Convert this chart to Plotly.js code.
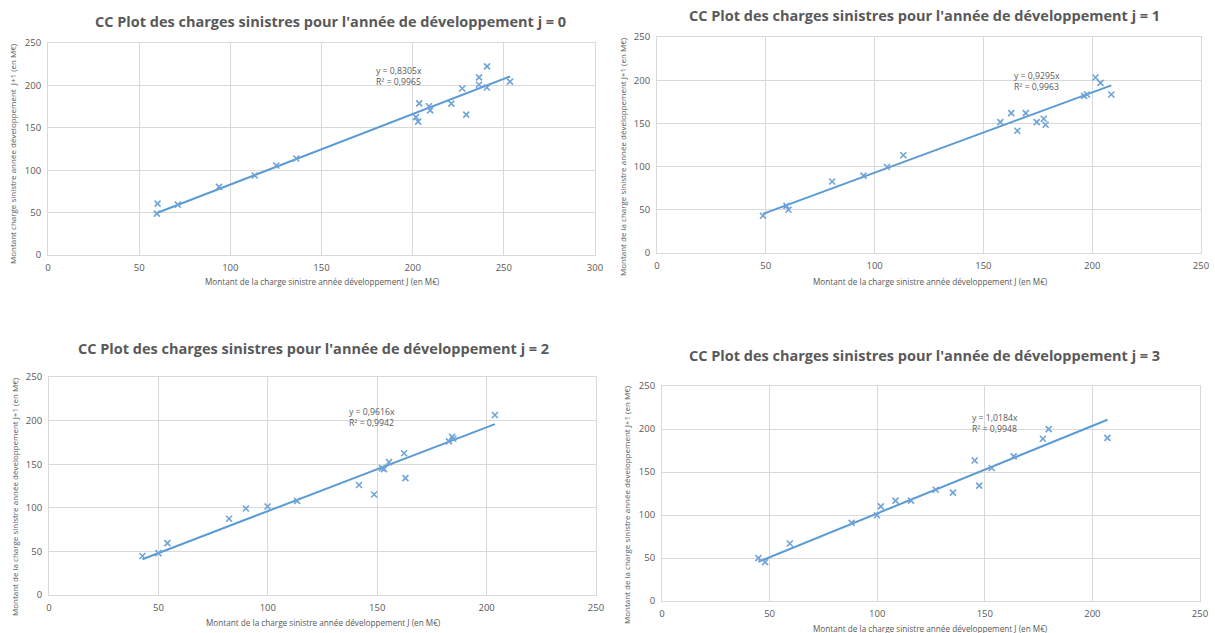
<!DOCTYPE html>
<html>
<head>
<meta charset="utf-8">
<script src="https://cdn.plot.ly/plotly-3.0.1.min.js"></script>
<style>html,body{margin:0;padding:0;background:#fff;}#chart{width:1215px;height:633px;}</style>
</head>
<body>
<div id="chart"></div>
<script>
// ---- data ----
const titles = [
  "CC Plot des charges sinistres pour l'année de développement j = 0",
  "CC Plot des charges sinistres pour l'année de développement j = 1",
  "CC Plot des charges sinistres pour l'année de développement j = 2",
  "CC Plot des charges sinistres pour l'année de développement j = 3"
];
const xTitle = "Montant de la charge sinistre année développement J (en M€)";
const yTitles = [
  "Montant charge sinistre année développement  J+1 (en M€)",
  "Montant de la charge sinistre année développement J+1 (en M€)",
  "Montant de la charge sinistre année développement J+1 (en M€)",
  "Montant de la charge sinistre année développement J+1 (en M€)"
];
const j0_x = [59.7, 60.1, 71.2, 93.8, 113.4, 125.2, 136.2, 201.8, 203.0, 203.6, 208.9, 209.6, 221.2, 227.2, 229.4, 236.4, 236.4, 240.8, 240.7, 253.4];
const j0_y = [48.8, 60.6, 59.4, 80.3, 93.7, 105.5, 113.8, 162.6, 157.2, 178.8, 175.4, 170.5, 178.5, 196.3, 165.5, 209.5, 200.8, 222.5, 197.5, 204.4];
const j1_x = [48.7, 59.5, 60.4, 80.5, 94.9, 105.7, 113.2, 157.8, 162.8, 165.6, 169.5, 174.5, 177.7, 178.6, 196.3, 197.6, 201.5, 203.8, 208.8];
const j1_y = [43.1, 54.6, 50.0, 82.7, 89.6, 99.6, 113.1, 151.5, 161.9, 141.5, 161.9, 151.5, 155.4, 148.5, 181.9, 183.5, 203.1, 196.9, 183.5];
const j2_x = [42.7, 50.0, 54.1, 82.3, 90.0, 99.9, 113.4, 141.7, 148.6, 152.2, 153.1, 155.4, 162.3, 162.9, 182.8, 184.2, 184.8, 203.8];
const j2_y = [44.7, 48.1, 59.5, 87.5, 99.2, 101.5, 108.0, 126.1, 115.2, 145.5, 144.3, 152.3, 162.5, 134.1, 176.1, 181.4, 179.2, 206.4];
const j3_x = [44.8, 47.9, 59.4, 88.1, 99.9, 101.7, 108.5, 115.7, 127.2, 135.2, 145.3, 147.4, 153.2, 163.4, 177.0, 179.7, 207.0];
const j3_y = [49.8, 45.2, 66.8, 90.8, 99.7, 110.1, 116.7, 116.7, 129.4, 126.0, 163.4, 134.1, 154.6, 168.1, 188.6, 199.8, 189.7];
const slopes = [0.8305, 0.9295, 0.9616, 1.0184];
const r2 = ["0,9965", "0,9963", "0,9942", "0,9948"];
const slopeLabels = ["0,8305", "0,9295", "0,9616", "1,0184"];
const xMax = [300, 250, 250, 250];
const yMax = [250, 250, 250, 250];

// ---- layout geometry (pixels in the 1215x633 picture) ----
const W = 1215, H = 633;
const boxes = [ // left, right, top, bottom
  [48, 595, 43, 255],
  [657, 1201, 37, 253],
  [49, 596, 377, 595],
  [662, 1200, 386, 601]
];
const titlePos = [[330, 21], [924, 15], [313, 348], [924, 355]];
const xTitlePos = [[322, 282], [930, 281], [323, 622], [930, 628]];
const yTitlePos = [[12, 154], [623, 157], [14, 497], [627, 505]];
const eqPos = [[179, 211], [163, 198], [136, 203], [143, 206]]; // data coords, left of text

const xs = [j0_x, j1_x, j2_x, j3_x];
const ys = [j0_y, j1_y, j2_y, j3_y];
const blue = '#5b9bd5';
const markBlue = '#6fa3d8';
const gray = '#595959';
const FONT = 'Open Sans, sans-serif';

const traces = [];
const layout = {
  width: W, height: H,
  margin: {l: 0, r: 0, t: 0, b: 0},
  paper_bgcolor: '#fff', plot_bgcolor: '#fff',
  showlegend: false,
  annotations: []
};

for (let i = 0; i < 4; i++) {
  const ax = i === 0 ? '' : String(i + 1);
  const xa = 'x' + ax, ya = 'y' + ax;
  const [l, r, t, b] = boxes[i];
  const lo = Math.min(...xs[i]), hi = Math.max(...xs[i]);
  traces.push({
    x: [lo, hi], y: [slopes[i] * lo, slopes[i] * hi],
    xaxis: xa, yaxis: ya, mode: 'lines', type: 'scatter',
    line: {color: blue, width: 2}, hoverinfo: 'skip'
  });
  traces.push({
    x: xs[i], y: ys[i], xaxis: xa, yaxis: ya, mode: 'markers', type: 'scatter',
    marker: {symbol: 'x-thin', size: 6, line: {color: markBlue, width: 1.6}, color: markBlue}
  });
  const axCommon = {
    showgrid: true, gridcolor: '#d9d9d9', gridwidth: 1,
    zeroline: false, showline: true, linecolor: '#d9d9d9', linewidth: 1, mirror: true,
    ticks: '', tickfont: {family: FONT, size: 9.5, color: gray},
    fixedrange: true
  };
  layout['xaxis' + ax] = Object.assign({}, axCommon, {
    domain: [l / W, r / W], anchor: ya, range: [0, xMax[i]], dtick: 50,
    ticklabelstandoff: 4
  });
  layout['yaxis' + ax] = Object.assign({}, axCommon, {
    domain: [1 - b / H, 1 - t / H], anchor: xa, range: [0, yMax[i]], dtick: 50,
    ticklabelstandoff: 4
  });
  layout.annotations.push({
    text: '<b>' + titles[i] + '</b>', xref: 'paper', yref: 'paper',
    x: titlePos[i][0] / W, y: 1 - titlePos[i][1] / H, xanchor: 'center', yanchor: 'middle',
    showarrow: false, font: {family: FONT, size: 14.5, color: gray}
  });
  layout.annotations.push({
    text: xTitle, xref: 'paper', yref: 'paper',
    x: xTitlePos[i][0] / W, y: 1 - xTitlePos[i][1] / H, xanchor: 'center', yanchor: 'middle',
    showarrow: false, font: {family: FONT, size: 8.2, color: gray}
  });
  layout.annotations.push({
    text: yTitles[i], xref: 'paper', yref: 'paper', textangle: -90,
    x: yTitlePos[i][0] / W, y: 1 - yTitlePos[i][1] / H, xanchor: 'center', yanchor: 'middle',
    showarrow: false, font: {family: FONT, size: 8, color: gray}
  });
  layout.annotations.push({
    text: 'y = ' + slopeLabels[i] + 'x<br>R² = ' + r2[i], xref: xa, yref: ya,
    x: eqPos[i][0], y: eqPos[i][1], xanchor: 'left', yanchor: 'middle', align: 'left',
    showarrow: false, font: {family: FONT, size: 8.7, color: gray}
  });
}

Plotly.newPlot('chart', traces, layout, {displayModeBar: false, staticPlot: true});
</script>
</body>
</html>
